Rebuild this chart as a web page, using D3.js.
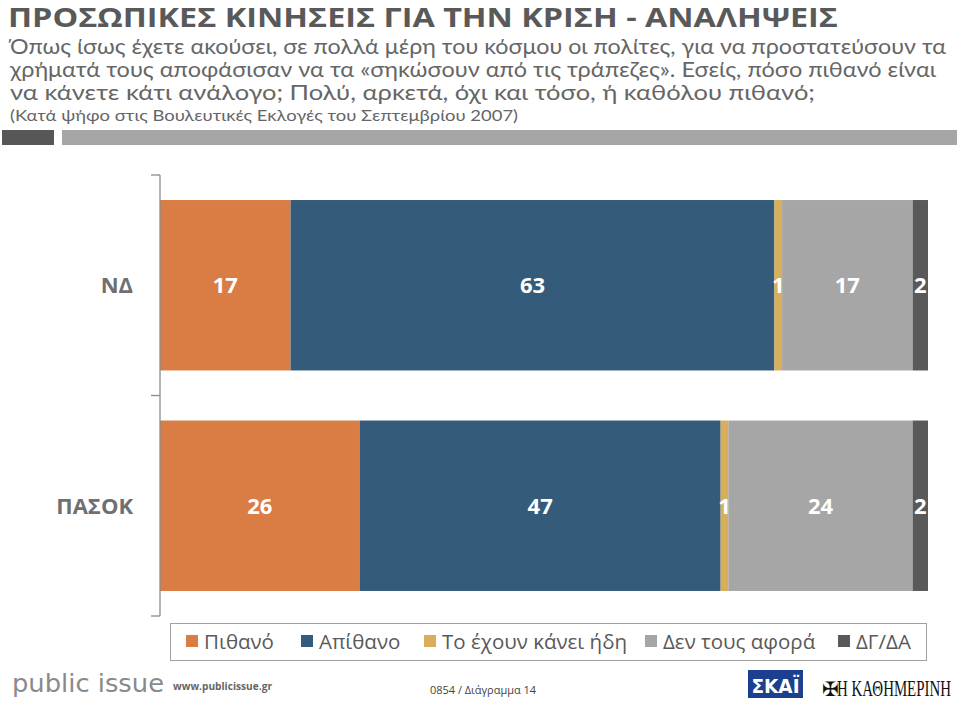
<!DOCTYPE html>
<html><head><meta charset="utf-8">
<script src="https://cdn.jsdelivr.net/npm/d3@7/dist/d3.min.js"></script>
<style>body{margin:0;background:#fff}svg{display:block}</style>
</head><body>
<svg id="c" width="959" height="702"></svg>
<script>
const categories = ["ΝΔ", "ΠΑΣΟΚ"];
const seriesNames = ["Πιθανό", "Απίθανο", "Το έχουν κάνει ήδη", "Δεν τους αφορά", "ΔΓ/ΔΑ"];
const pithano = [17, 26];
const apithano = [63, 47];
const ehounKanei = [1, 1];
const denAfora = [17, 24];
const dgda = [2, 2];
const seriesColors = ["#D97D45", "#345B7A", "#D9AE5A", "#A6A6A6", "#595959"];

const titleText = "ΠΡΟΣΩΠΙΚΕΣ ΚΙΝΗΣΕΙΣ ΓΙΑ ΤΗΝ ΚΡΙΣΗ - ΑΝΑΛΗΨΕΙΣ";
const subLines = [
  "Όπως ίσως έχετε ακούσει, σε πολλά μέρη του κόσμου οι πολίτες, για να προστατεύσουν τα",
  "χρήματά τους αποφάσισαν να τα «σηκώσουν από τις τράπεζες». Εσείς, πόσο πιθανό είναι",
  "να κάνετε κάτι ανάλογο; Πολύ, αρκετά, όχι και τόσο, ή καθόλου πιθανό;"
];
const noteText = "(Κατά ψήφο στις Βουλευτικές Εκλογές του Σεπτεμβρίου 2007)";

const seriesValues = [pithano, apithano, ehounKanei, denAfora, dgda];
const rows = categories.map((c, i) => {
  const o = {cat: c};
  seriesNames.forEach((s, j) => o[s] = seriesValues[j][i]);
  return o;
});

const svg = d3.select("#c");
const font = "'Open Sans', 'DejaVu Sans', sans-serif";
const font2 = "Lato, 'Open Sans', sans-serif";

// Header
svg.append("text").attr("x", 8).attr("y", 27).text(titleText)
  .attr("font-family", font).attr("font-weight", 700).attr("font-size", 26)
  .attr("fill", "#595959").attr("textLength", 830).attr("lengthAdjust", "spacingAndGlyphs");
const subEnds = [946, 936, 815];
subLines.forEach((t, i) => {
  svg.append("text").attr("x", 10).attr("y", 54 + i * 23).text(t)
    .attr("font-family", font2).attr("font-size", 20.5).attr("fill", "#666")
    .attr("textLength", subEnds[i] - 10).attr("lengthAdjust", "spacingAndGlyphs");
});
svg.append("text").attr("x", 10).attr("y", 121).text(noteText)
  .attr("font-family", font2).attr("font-size", 16).attr("fill", "#666")
  .attr("textLength", 508).attr("lengthAdjust", "spacingAndGlyphs");
svg.append("rect").attr("x", 2).attr("y", 130).attr("width", 52).attr("height", 15).attr("fill", "#575757");
svg.append("rect").attr("x", 62).attr("y", 130).attr("width", 895).attr("height", 15).attr("fill", "#A6A6A6");

// Scales
const x = d3.scaleLinear().domain([0, 100]).range([160, 928]);
const y = d3.scaleBand().domain(categories).range([175, 616]).paddingInner(0.227).paddingOuter(0.1135);
const color = d3.scaleOrdinal().domain(seriesNames).range(seriesColors);

const stack = d3.stack().keys(seriesNames)(rows);

const g = svg.append("g");
stack.forEach(layer => {
  g.selectAll(null).data(layer).enter().append("rect")
    .attr("x", d => x(d[0])).attr("width", d => x(d[1]) - x(d[0]))
    .attr("y", d => y(d.data.cat)).attr("height", y.bandwidth())
    .attr("fill", color(layer.key));
});
stack.forEach(layer => {
  g.selectAll(null).data(layer).enter().append("text")
    .attr("x", d => (x(d[0]) + x(d[1])) / 2)
    .attr("y", d => y(d.data.cat) + y.bandwidth() / 2)
    .attr("dy", "0.36em").attr("text-anchor", "middle")
    .attr("font-family", font).attr("font-weight", 700).attr("font-size", 22)
    .attr("fill", "#fff").text(d => d[1] - d[0]);
});

// Axis with ticks at band boundaries
const axisG = svg.append("g").attr("stroke", "#8c8c8c").attr("stroke-width", 1.3);
const r = y.range();
axisG.append("line").attr("x1", 160).attr("x2", 160).attr("y1", r[0]).attr("y2", r[1]);
d3.range(categories.length + 1).forEach(i => {
  const yy = r[0] + i * y.step();
  axisG.append("line").attr("x1", 151).attr("x2", 160).attr("y1", yy).attr("y2", yy);
});
svg.selectAll(".catlab").data(categories).enter().append("text")
  .attr("x", 133).attr("y", d => y(d) + y.bandwidth() / 2).attr("dy", "0.36em")
  .attr("text-anchor", "end").attr("font-family", font).attr("font-weight", 700)
  .attr("font-size", 22).attr("fill", "#6f6f6f").text(d => d);

// Legend
svg.append("rect").attr("x", 170.5).attr("y", 623.5).attr("width", 756).attr("height", 37)
  .attr("fill", "#fff").attr("stroke", "#a0a0a0").attr("stroke-width", 1);
const legX = [186, 301, 424, 645, 838];
seriesNames.forEach((s, i) => {
  svg.append("rect").attr("x", legX[i]).attr("y", 635).attr("width", 12).attr("height", 12).attr("fill", color(s));
  svg.append("text").attr("x", legX[i] + 18).attr("y", 642).attr("dy", "0.36em")
    .attr("font-family", font).attr("font-size", 20.5).attr("fill", "#595959").text(s);
});

// Footer
svg.append("text").attr("x", 12).attr("y", 692).text("public issue")
  .attr("font-family", "'DejaVu Sans', sans-serif").attr("font-size", 25).attr("fill", "#8a8a8a")
  .attr("textLength", 152).attr("lengthAdjust", "spacingAndGlyphs");
svg.append("text").attr("x", 173).attr("y", 690).text("www.publicissue.gr")
  .attr("font-family", font).attr("font-weight", 700).attr("font-size", 11).attr("fill", "#666")
  .attr("textLength", 99).attr("lengthAdjust", "spacingAndGlyphs");
svg.append("text").attr("x", 430).attr("y", 694).text("0854 / Διάγραμμα 14")
  .attr("font-family", font).attr("font-size", 11).attr("fill", "#444")
  .attr("textLength", 106).attr("lengthAdjust", "spacingAndGlyphs");
svg.append("rect").attr("x", 748).attr("y", 670).attr("width", 55).attr("height", 28).attr("fill", "#1c3f8f");
svg.append("text").attr("x", 775.5).attr("y", 693).attr("text-anchor", "middle").text("ΣΚΑΪ")
  .attr("font-family", "'DejaVu Sans', sans-serif").attr("font-weight", 700).attr("font-size", 20).attr("fill", "#fff")
  .attr("textLength", 48).attr("lengthAdjust", "spacingAndGlyphs");
svg.append("text").attr("x", 822).attr("y", 696).text("✠")
  .attr("font-family", "'DejaVu Sans', sans-serif").attr("font-size", 20).attr("fill", "#111");
const kath = svg.append("text").attr("x", 0).attr("y", 0).text("Η ΚΑΘΗΜΕΡΙΝΗ")
  .attr("font-family", "'Liberation Serif', serif").attr("font-size", 24).attr("fill", "#111");
const kLen = kath.node().getComputedTextLength();
kath.attr("transform", `translate(837,696) scale(${114 / kLen},1)`);
</script>
</body></html>
